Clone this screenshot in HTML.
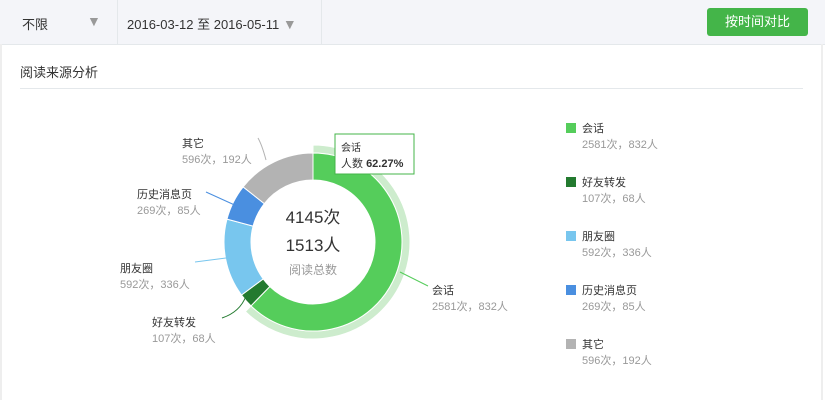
<!DOCTYPE html><html><head><meta charset="utf-8"><style>
body{margin:0;width:825px;height:400px;background:#fff;font-family:"Liberation Sans","Noto Sans CJK SC",sans-serif;overflow:hidden;position:relative}
.bar{position:absolute;left:0;top:0;width:825px;height:44px;background:#f4f5f9;border-bottom:1px solid #e4e8eb}
.t{position:absolute;white-space:nowrap}
.btn{position:absolute;left:707px;top:8px;width:101px;height:28px;background:#44b549;border-radius:3px;color:#fff;font-size:13px;text-align:center;line-height:28px}
.ar{color:#999;font-size:14px}
</style></head><body>
<div class="bar"></div>
<div style="position:absolute;left:117px;top:0;width:1px;height:44px;background:#e4e8eb"></div>
<div style="position:absolute;left:321px;top:0;width:1px;height:44px;background:#e4e8eb"></div>
<div style="position:absolute;left:0;top:44px;width:2px;height:356px;background:#eee"></div>
<div style="position:absolute;left:821px;top:44px;width:2px;height:356px;background:#eee"></div>
<div class="t" style="left:22px;top:14px;font-size:13px;color:#333">不限</div>
<div class="t ar" style="left:87px;top:13px">▼</div>
<div class="t" style="left:127px;top:14px;font-size:13px;color:#333">2016-03-12 至 2016-05-11 <span class="ar">▼</span></div>
<div class="btn">按时间对比</div>
<div class="t" style="left:20px;top:62px;font-size:13px;color:#333">阅读来源分析</div>
<div style="position:absolute;left:20px;top:88px;width:783px;height:1px;background:#e4e8eb"></div>
<svg id="s" width="825" height="400" style="position:absolute;left:0;top:0" font-family="Liberation Sans, Noto Sans CJK SC, sans-serif"></svg>
<script>
var cx=313,cy=242,ro=89,ri=62;
var d=[[2581,'#55cd5b'],[107,'#237a2f'],[592,'#78c6ee'],[269,'#4a8fe0'],[596,'#b3b3b3']];
var tot=4145,a=0,h='';
function p(r,t){return [cx+r*Math.sin(t),cy-r*Math.cos(t)]}
function arc(r1,r2,a1,a2,c,op){var l=(a2-a1)>Math.PI?1:0,A=p(r2,a1),B=p(r2,a2),C=p(r1,a2),D=p(r1,a1);
return '<path d="M'+A+' A'+r2+','+r2+' 0 '+l+' 1 '+B+' L'+C+' A'+r1+','+r1+' 0 '+l+' 0 '+D+'Z" fill="'+c+'" '+(op||'')+' stroke="#fff" stroke-width="1"/>'}
var a2=2581/tot*2*Math.PI;
h+=arc(ro,ro+8,0,a2,'#cdeccd');
d.forEach(function(x){var b=a+x[0]/tot*2*Math.PI;h+=arc(ri,ro,a,b,x[1]);a=b});
h+='<path d="M400,272 L428,286" stroke="#55cd5b" fill="none"/><path d="M246,296 Q240,312 222,318" stroke="#237a2f" fill="none"/><path d="M226,258 L195,262" stroke="#78c6ee" fill="none"/><path d="M239,207 L206,192" stroke="#4a8fe0" fill="none"/><path d="M266,160 Q262,145 258,138" stroke="#b3b3b3" fill="none"/>';
h+='<text x="313" y="223" text-anchor="middle" font-size="17" fill="#333">4145次</text><text x="313" y="251" text-anchor="middle" font-size="17" fill="#333">1513人</text><text x="313" y="274" text-anchor="middle" font-size="12" fill="#999">阅读总数</text>';
h+='<rect x="335" y="134" width="79" height="40" fill="#fff" stroke="#44b549"/><text x="341" y="151" font-size="10" fill="#333">会话</text><text x="341" y="167" font-size="11" fill="#333">人数 <tspan font-weight="bold">62.27%</tspan></text>';
function lab(x,y,n,v,anc){h+='<text x="'+x+'" y="'+y+'" font-size="11" fill="#333" text-anchor="'+anc+'">'+n+'</text><text x="'+x+'" y="'+(y+16)+'" font-size="11" fill="#999" text-anchor="'+anc+'">'+v+'</text>'}
lab(432,294,'会话','2581次，832人','start');
lab(152,326,'好友转发','107次，68人','start');
lab(120,272,'朋友圈','592次，336人','start');
lab(137,198,'历史消息页','269次，85人','start');
lab(182,147,'其它','596次，192人','start');
var L=[['会话','2581次，832人'],['好友转发','107次，68人'],['朋友圈','592次，336人'],['历史消息页','269次，85人'],['其它','596次，192人']];
L.forEach(function(l,i){var y=123+i*54;h+='<rect x="566" y="'+y+'" width="10" height="10" fill="'+d[i][1]+'"/><text x="582" y="'+(y+9)+'" font-size="11" fill="#333">'+l[0]+'</text><text x="582" y="'+(y+25)+'" font-size="11" fill="#999">'+l[1]+'</text>'});
document.getElementById('s').innerHTML=h;
</script>
</body></html>
